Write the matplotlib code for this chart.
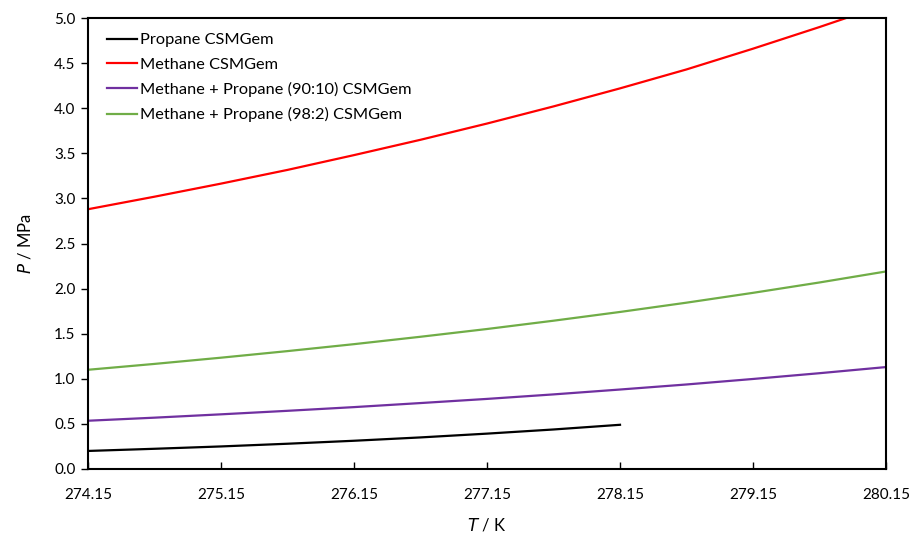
import matplotlib
matplotlib.use("Agg")
import matplotlib.pyplot as plt

plt.rcParams['font.family'] = ['Lato', 'DejaVu Sans']

# Hydrate equilibrium curves (temperature in K, pressure in MPa)
T_full = [274.15, 274.65, 275.15, 275.65, 276.15, 276.65, 277.15, 277.65,
          278.15, 278.65, 279.15, 279.65, 280.15]
T_propane = [274.15, 274.65, 275.15, 275.65, 276.15, 276.65, 277.15, 277.65, 278.15]

propane = [0.200, 0.224, 0.250, 0.280, 0.313, 0.350, 0.392, 0.438, 0.490]
methane = [2.880, 3.019, 3.164, 3.316, 3.480, 3.650, 3.830, 4.020, 4.220,
           4.430, 4.660, 4.900, 5.150]
mix_90_10 = [0.535, 0.569, 0.606, 0.645, 0.686, 0.731, 0.777, 0.827, 0.881,
             0.937, 0.998, 1.062, 1.130]
mix_98_2 = [1.100, 1.165, 1.234, 1.307, 1.384, 1.466, 1.552, 1.644, 1.741,
            1.844, 1.953, 2.068, 2.190]

x_ticks = [274.15, 275.15, 276.15, 277.15, 278.15, 279.15, 280.15]
y_ticks = [0.0, 0.5, 1.0, 1.5, 2.0, 2.5, 3.0, 3.5, 4.0, 4.5, 5.0]

fig = plt.figure(figsize=(9.12, 5.33), dpi=100)
ax = fig.add_axes([0.0965, 0.1201, 0.875, 0.8461])

lw = 1.6
ax.plot(T_propane, propane, color='black', lw=lw, label='Propane CSMGem')
ax.plot(T_full, methane, color='#FF0000', lw=lw, label='Methane CSMGem')
ax.plot(T_full, mix_90_10, color='#7030A0', lw=lw, label='Methane + Propane (90:10) CSMGem')
ax.plot(T_full, mix_98_2, color='#70AD47', lw=lw, label='Methane + Propane (98:2) CSMGem')

ax.set_xlim(274.15, 280.15)
ax.set_ylim(0, 5.0)
ax.set_xticks(x_ticks)
ax.set_xticklabels([f"{v:.2f}" for v in x_ticks])
ax.set_yticks(y_ticks)
ax.set_yticklabels([f"{v:.1f}" for v in y_ticks])

ax.tick_params(axis='x', direction='in', length=5, width=1, labelsize=11, pad=14)
ax.tick_params(axis='y', direction='out', length=5, width=1, labelsize=11, pad=4)
for s in ax.spines.values():
    s.set_linewidth(1.5)
    s.set_color('black')

ax.set_xlabel(r'$\it{T}$ / K', fontsize=12, labelpad=10)
ax.set_ylabel(r'$\it{P}$ / MPa', fontsize=12, labelpad=15)

leg = ax.legend(loc='upper left', frameon=False, fontsize=11.8, handlelength=1.85,
                handletextpad=0.2, labelspacing=0.62, borderaxespad=0.5,
                bbox_to_anchor=(0.005, 1.0))

fig.savefig('out.png', dpi=100)
